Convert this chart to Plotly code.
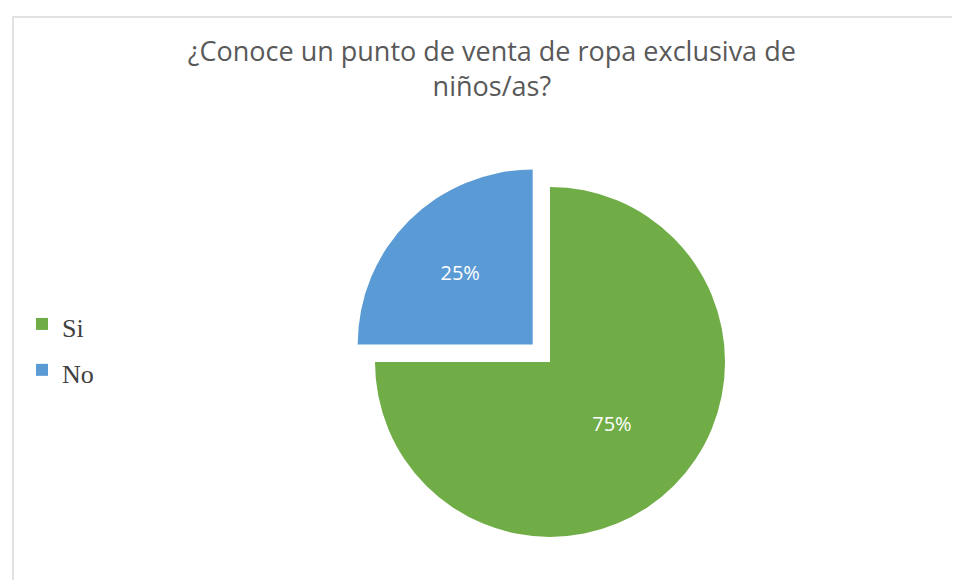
import plotly.graph_objects as go

labels = ["Si", "No"]
values = [75, 25]
colors = ["#70AD47", "#5B9BD5"]
pulls = [0, 0.14]
title_text = "¿Conoce un punto de venta de ropa exclusiva de<br>niños/as?"

W, H = 960, 580

legend_labels = ['<span style="font-size:26px">%s</span>' % l for l in labels]

fig = go.Figure(
    go.Pie(
        labels=legend_labels,
        values=values,
        marker=dict(colors=colors, line=dict(width=0)),
        pull=pulls,
        sort=False,
        direction="clockwise",
        rotation=0,
        textinfo="percent",
        textposition="inside",
        insidetextorientation="horizontal",
        textfont=dict(family="Open Sans, sans-serif", size=20, color="#FFFFFF"),
        domain=dict(x=[0.3566, 0.7726], y=[0.0458, 0.7338]),
        hoverinfo="skip",
    )
)

fig.update_layout(
    width=W,
    height=H,
    margin=dict(l=0, r=0, t=0, b=0),
    paper_bgcolor="#FFFFFF",
    plot_bgcolor="#FFFFFF",
    title=dict(
        text=title_text,
        x=0.504,
        xanchor="center",
        y=1 - 53 / H,
        yanchor="top",
        font=dict(family="Open Sans, sans-serif", size=27, color="#595959"),
    ),
    showlegend=True,
    legend=dict(
        x=14 / W,
        xanchor="left",
        y=1 - 339 / H,
        yanchor="middle",
        font=dict(family="Liberation Serif, Times New Roman, serif", size=33, color="#404040"),
        bgcolor="rgba(0,0,0,0)",
    ),
    shapes=[
        dict(
            type="rect",
            xref="paper",
            yref="paper",
            x0=5 / W,
            x1=1.02,
            y0=-0.02,
            y1=1 - 9 / H,
            line=dict(color="#D9D9D9", width=1.5),
            fillcolor="rgba(0,0,0,0)",
            layer="below",
        )
    ],
)

fig.write_html("out.html")
